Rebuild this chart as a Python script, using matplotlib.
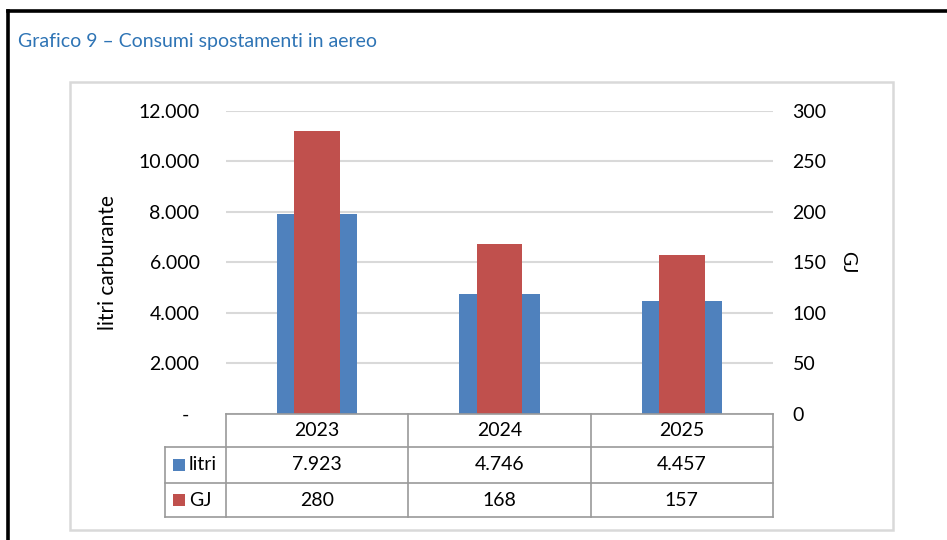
import matplotlib
matplotlib.use('Agg')

import matplotlib.pyplot as plt
from matplotlib.lines import Line2D
from matplotlib.patches import Rectangle
from matplotlib.ticker import FuncFormatter

plt.rcParams['font.family'] = ['Lato', 'DejaVu Sans']

anni = ['2023', '2024', '2025']
litri = [7923, 4746, 4457]
gj = [280, 168, 157]
serie = ['litri', 'GJ']

BLU = '#4F81BD'
ROSSO = '#C0504D'
W, H = 947, 540
FS = 14


def it_num(v):
    # formato italiano con il punto come separatore delle migliaia
    return f'{int(v):,}'.replace(',', '.')


def fx(px):
    return px / W


def fy(py):
    return 1 - py / H


fig = plt.figure(figsize=(9.47, 5.4), dpi=100)

# cornice nera (solo lato sinistro e superiore) e riquadro grigio del grafico
fig.add_artist(Line2D([fx(8), fx(8)], [fy(540), fy(11)], color='black', lw=2.6))
fig.add_artist(Line2D([fx(8), fx(947)], [fy(11), fy(11)], color='black', lw=2.6))
fig.add_artist(Rectangle((fx(70), fy(530)), fx(893) - fx(70), fy(82) - fy(530),
                         fill=False, edgecolor='#d9d9d9', lw=1.8))

fig.text(fx(18), fy(42), 'Grafico 9 \u2013 Consumi spostamenti in aereo',
         color='#2E74B5', fontsize=14, va='center', ha='left')

ax_l, ax_r, ax_t, ax_b = 226, 773, 110.7, 414
ax = fig.add_axes([fx(ax_l), fy(ax_b), fx(ax_r) - fx(ax_l), fy(ax_t) - fy(ax_b)])
ax2 = ax.twinx()

x = range(len(anni))
ax.bar(x, litri, width=0.44, color=BLU, zorder=2)
ax2.bar(x, gj, width=0.25, color=ROSSO, zorder=2)

ax.set_xlim(-0.5, 2.5)
ax.set_ylim(0, 12000)
ax2.set_ylim(0, 300)
ax.set_yticks(range(0, 12001, 2000))
ax2.set_yticks(range(0, 301, 50))
ax.yaxis.set_major_formatter(FuncFormatter(lambda v, p: it_num(v) if v else '-  '))
ax.set_xticks([])

for a in (ax, ax2):
    for s in a.spines.values():
        s.set_visible(False)
    a.tick_params(length=0, labelsize=FS)
ax.tick_params(axis='y', pad=19)
ax2.tick_params(axis='y', pad=14)

ax.grid(axis='y', color='#d9d9d9', lw=1.5, zorder=0)
ax.set_axisbelow(True)

ax.set_ylabel('litri carburante', fontsize=15)
ax.yaxis.set_label_coords((118 - ax_l) / (ax_r - ax_l), 0.5)
ax2.set_ylabel('GJ', fontsize=FS, rotation=270, va='center')
ax2.yaxis.set_label_coords((848 - ax_l) / (ax_r - ax_l), 0.5)

# tabella dati sotto il grafico
col_w = (ax_r - ax_l) / len(anni)
righe = [ax_b, 447, 483, 517]
leg_l = 165
bordo = dict(color='#9a9a9a', lw=1.2)


def linea(x0, y0, x1, y1):
    fig.add_artist(Line2D([fx(x0), fx(x1)], [fy(y0), fy(y1)], **bordo))


linea(ax_l, righe[0], ax_r, righe[0])
for y in righe[1:]:
    linea(leg_l, y, ax_r, y)
linea(leg_l, righe[1], leg_l, righe[3])
for i in range(len(anni) + 1):
    linea(ax_l + i * col_w, righe[0], ax_l + i * col_w, righe[3])

valori = [[it_num(v) for v in litri], [it_num(v) for v in gj]]
for i, anno in enumerate(anni):
    cx = ax_l + (i + 0.5) * col_w
    fig.text(fx(cx), fy((righe[0] + righe[1]) / 2), anno, fontsize=FS,
             ha='center', va='center')
    for r in range(2):
        fig.text(fx(cx), fy((righe[r + 1] + righe[r + 2]) / 2), valori[r][i],
                 fontsize=FS, ha='center', va='center')

for r, (nome, col) in enumerate(zip(serie, [BLU, ROSSO])):
    cy = (righe[r + 1] + righe[r + 2]) / 2
    fig.add_artist(Rectangle((fx(173), fy(cy + 6)), fx(185) - fx(173), fy(cy - 6) - fy(cy + 6),
                             color=col, lw=0))
    fig.text(fx(189), fy(cy), nome, fontsize=FS, ha='left', va='center')

fig.savefig('out.png', dpi=100)
plt.close(fig)
